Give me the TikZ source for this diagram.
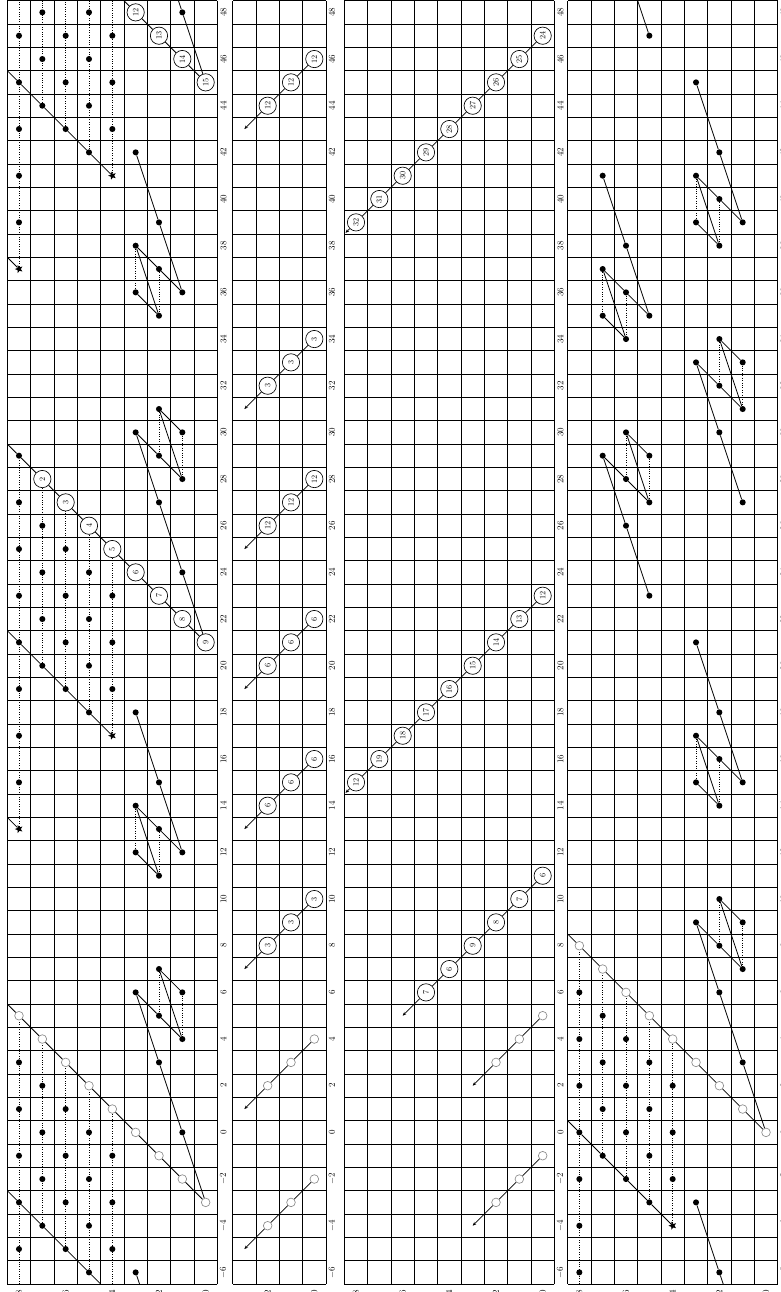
\documentclass[tikz,border=0pt]{standalone}
\usetikzlibrary{shapes.geometric,arrows.meta}
\newcommand{\pgridlab}[2]{%
  \foreach \i in {-6.5,-5.5,...,48.5} \draw[gl] (\i,-0.5)--(\i,#1.5);
  \foreach \j in {-0.5,0.5,...,#1.5} \draw[gl] (-6.5,\j)--(48.5,\j);
  \foreach \x in {-6,-4,...,48} \node[xl] at (\x,-0.76) {$\x$};
  \foreach \y in {#2} \node[xl] at (-6.85,\y) {$\y$};
}
\newcommand{\clA}[3]{%
 \node[dot] (#1T) at (#2,{#3+1}) {};
 \node[dot] (#1S) at ({#2+1},{#3+2}) {};
 \node[dot] (#1R) at ({#2+1},#3) {};
 \node[dot] (#1Q) at ({#2+2},{#3+1}) {};
 \node[dot] (#1P) at ({#2+3},{#3+2}) {};
 \draw[cn] (#1P)--(#1Q)--(#1R);
 \draw[cn] (#1P)--(#1T);
 \draw[cn] (#1S)--(#1T);
 \draw[dl] (#1P)--(#1S);
 \draw[dl] (#1Q)--(#1T);
}
\newcommand{\clB}[3]{%
 \node[dot] (#1Y) at (#2,#3) {};
 \node[dot] (#1X) at ({#2+1},{#3+1}) {};
 \node[dot] (#1W) at ({#2+2},{#3+2}) {};
 \node[dot] (#1V) at ({#2+2},#3) {};
 \node[dot] (#1U) at ({#2+3},{#3+1}) {};
 \draw[cn] (#1W)--(#1X)--(#1Y);
 \draw[cn] (#1U)--(#1V);
 \draw[cn] (#1U)--(#1Y);
 \draw[dl] (#1U)--(#1X);
 \draw[dl] (#1V)--(#1Y);
}
\newcommand{\ogroup}[2]{%
 \node[oc] (#1a) at (#2,0) {};
 \node[oc] (#1b) at ({#2-1},1) {};
 \node[oc] (#1c) at ({#2-2},2) {};
 \coordinate (#1t) at ({#2-3},3);
 \draw[cn] (#1a)--(#1b)--(#1c);
 \draw[tip] (#1c)--(#1t);
}
\newcommand{\ngroup}[3]{%
 \node[nc] (#1a) at (#2,0) {#3};
 \node[nc] (#1b) at ({#2-1},1) {#3};
 \node[nc] (#1c) at ({#2-2},2) {#3};
 \coordinate (#1t) at ({#2-3},3);
 \draw[cn] (#1a)--(#1b)--(#1c);
 \draw[tip] (#1c)--(#1t);
}
\begin{document}
\begin{tikzpicture}[
  gl/.style={line width=1.15pt,black},
  cn/.style={line width=0.95pt,black},
  dl/.style={line width=0.95pt,black,dotted},
  dot/.style={circle,fill=black,inner sep=0pt,minimum size=0.26cm},
  oc/.style={circle,draw=black!45,fill=white,line width=0.8pt,inner sep=0pt,minimum size=0.37cm},
  nc/.style={circle,draw=black,fill=white,line width=0.8pt,inner sep=0pt,minimum size=0.74cm,font=\fontsize{10}{12}\selectfont},
  st/.style={star,star points=5,star point ratio=2.3,fill=black,inner sep=0pt,minimum size=0.36cm},
  xl/.style={font=\fontsize{11}{13}\selectfont,inner sep=0pt},
  tip/.style={line width=0.95pt,black,-{Stealth[length=1.6mm,width=1.3mm]}},
]
\useasboundingbox (0,0) rectangle (33.471,-55.371);
\fill[white] (0,0) rectangle (33.471,-55.371);

% ================= PANEL 1 =================
\begin{scope}[shift={(8.814,-48.53)},rotate=90,transform shape]
\pgridlab{8}{0,2,4,6,8}
% bottom region
\foreach \x in {-5,-3,-1,1,3} \node[dot] (a8x\x) at (\x,8) {};
\foreach \x in {-4,-2,0,2} \node[dot] (a7x\x) at (\x,7) {};
\foreach \x in {-5,-3,-1,1} \node[dot] (a6x\x) at (\x,6) {};
\foreach \x in {-6,-4,-2,0} \node[dot] (a5x\x) at (\x,5) {};
\foreach \x in {-5,-3,-1} \node[dot] (a4x\x) at (\x,4) {};
\node[dot] (a3x-6) at (-6,3) {};
\foreach \x/\y in {-3/0,-2/1,-1/2,0/3,1/4,2/5,3/6,4/7,5/8} \node[oc] (a\y x\x) at (\x,\y) {};
\coordinate (aE8) at (-6.5,8);
\coordinate (aE4) at (-6.5,4);
\coordinate (aD1) at (-6.5,4.5);
\coordinate (aD2) at (-2.5,8.5);
\coordinate (aD3) at (5.5,8.5);
\coordinate (aD4) at (-6.5,2.8333);
\draw[dl] (aE8)--(a8x5);
\draw[dl] (a7x-4)--(a7x4);
\draw[dl] (a6x-5)--(a6x3);
\draw[dl] (a5x-6)--(a5x2);
\draw[dl] (aE4)--(a4x1);
\draw[cn] (aD1)--(a5x-6)--(a6x-5)--(a7x-4)--(a8x-3)--(aD2);
\draw[cn] (a0x-3)--(a1x-2)--(a2x-1)--(a3x0)--(a4x1)--(a5x2)--(a6x3)--(a7x4)--(a8x5)--(aD3);
\draw[cn] (a3x-6)--(aD4);
% long line and cluster B1
\node[dot] (a1x0) at (0,1) {};
\node[dot] (a2x3) at (3,2) {};
\clB{aB1}{4}{1}
\draw[cn] (a0x-3)--(a1x0)--(a2x3)--(aB1W);
% cluster A1
\clA{aA1}{11}{1}
\node[dot] (a2x15) at (15,2) {};
\node[dot] (a3x18) at (18,3) {};
\draw[cn] (aA1R)--(a2x15)--(a3x18);
% wave 1
\node[st] (a8x13) at (13,8) {};
\coordinate (aS1) at (13.5,8.5);
\draw[cn] (a8x13)--(aS1);
\foreach \x in {15,17,...,29} \node[dot] (a8x\x) at (\x,8) {};
\node[st] (a4x17) at (17,4) {};
\foreach \x in {19,21,23} \node[dot] (a4x\x) at (\x,4) {};
\foreach \x in {18,20,22,24} \node[dot] (a5x\x) at (\x,5) {};
\foreach \x in {19,21,23,25} \node[dot] (a6x\x) at (\x,6) {};
\foreach \x in {20,22,24,26} \node[dot] (a7x\x) at (\x,7) {};
\node[nc] (a7x28) at (28,7) {2};
\node[nc] (a6x27) at (27,6) {3};
\node[nc] (a5x26) at (26,5) {4};
\node[nc] (a4x25) at (25,4) {5};
\node[nc] (a3x24) at (24,3) {6};
\node[nc] (a2x23) at (23,2) {7};
\node[nc] (a1x22) at (22,1) {8};
\node[nc] (a0x21) at (21,0) {9};
\draw[dl] (a8x13)--(a8x29);
\draw[dl] (a4x17)--(a4x25);
\draw[dl] (a5x18)--(a5x26);
\draw[dl] (a6x19)--(a6x27);
\draw[dl] (a7x20)--(a7x28);
\coordinate (aS2) at (21.5,8.5);
\coordinate (aS3) at (29.5,8.5);
\draw[cn] (a4x17)--(a5x18)--(a6x19)--(a7x20)--(a8x21)--(aS2);
\draw[cn] (a0x21)--(a1x22)--(a2x23)--(a3x24)--(a4x25)--(a5x26)--(a6x27)--(a7x28)--(a8x29)--(aS3);
\node[dot] (a1x24) at (24,1) {};
\node[dot] (a2x27) at (27,2) {};
\clB{aB2}{28}{1}
\draw[cn] (a0x21)--(a1x24)--(a2x27)--(aB2W);
\clA{aA2}{35}{1}
\node[dot] (a2x39) at (39,2) {};
\node[dot] (a3x42) at (42,3) {};
\draw[cn] (aA2R)--(a2x39)--(a3x42);
% wave 2
\node[st] (a8x37) at (37,8) {};
\coordinate (aS4) at (37.5,8.5);
\draw[cn] (a8x37)--(aS4);
\foreach \x in {39,41,...,47} \node[dot] (a8x\x) at (\x,8) {};
\node[st] (a4x41) at (41,4) {};
\foreach \x in {43,45,47} \node[dot] (a4x\x) at (\x,4) {};
\foreach \x in {42,44,46,48} \node[dot] (a5x\x) at (\x,5) {};
\foreach \x in {43,45,47} \node[dot] (a6x\x) at (\x,6) {};
\foreach \x in {44,46,48} \node[dot] (a7x\x) at (\x,7) {};
\foreach \y in {4,5,6,7,8} \coordinate (aT\y) at (48.5,\y);
\draw[dl] (a8x37)--(aT8);
\draw[dl] (a4x41)--(aT4);
\draw[dl] (a5x42)--(aT5);
\draw[dl] (a6x43)--(aT6);
\draw[dl] (a7x44)--(aT7);
\coordinate (aS5) at (45.5,8.5);
\draw[cn] (a4x41)--(a5x42)--(a6x43)--(a7x44)--(a8x45)--(aS5);
\node[nc] (a0x45) at (45,0) {15};
\node[nc] (a1x46) at (46,1) {14};
\node[nc] (a2x47) at (47,2) {13};
\node[nc] (a3x48) at (48,3) {12};
\coordinate (aS6) at (48.5,3.5);
\draw[cn] (a0x45)--(a1x46)--(a2x47)--(a3x48)--(aS6);
\node[dot] (a1x48) at (48,1) {};
\coordinate (aS7) at (48.5,1.1667);
\draw[cn] (a0x45)--(a1x48)--(aS7);
\end{scope}

% ================= PANEL 2 =================
\begin{scope}[shift={(13.471,-48.53)},rotate=90,transform shape]
\pgridlab{3}{0,2}
\ogroup{bo1}{-2}
\ogroup{bo2}{4}
\ngroup{bn1}{10}{3}
\ngroup{bn2}{16}{6}
\ngroup{bn3}{22}{6}
\ngroup{bn4}{28}{12}
\ngroup{bn5}{34}{3}
\ngroup{bn6}{46}{12}
\end{scope}

% ================= PANEL 3 =================
\begin{scope}[shift={(23.257,-48.53)},rotate=90,transform shape]
\pgridlab{8}{0,2,4,6,8}
\ogroup{co1}{-1}
\ogroup{co2}{5}
\foreach \k/\l in {0/6,1/7,2/8,3/9,4/6,5/7} \node[nc] (cg1n\k) at ({11-\k},\k) {\l};
\coordinate (cg1t) at (5,6);
\draw[cn] (cg1n0)--(cg1n1)--(cg1n2)--(cg1n3)--(cg1n4)--(cg1n5);
\draw[tip] (cg1n5)--(cg1t);
\foreach \k/\l in {0/12,1/13,2/14,3/15,4/16,5/17,6/18,7/19,8/12} \node[nc] (cg2n\k) at ({23-\k},\k) {\l};
\coordinate (cg2t) at (14.55,8.45);
\draw[cn] (cg2n0)--(cg2n1)--(cg2n2)--(cg2n3)--(cg2n4)--(cg2n5)--(cg2n6)--(cg2n7)--(cg2n8);
\draw[tip] (cg2n8)--(cg2t);
\foreach \k/\l in {0/24,1/25,2/26,3/27,4/28,5/29,6/30,7/31,8/32} \node[nc] (cg3n\k) at ({47-\k},\k) {\l};
\coordinate (cg3t) at (38.55,8.45);
\draw[cn] (cg3n0)--(cg3n1)--(cg3n2)--(cg3n3)--(cg3n4)--(cg3n5)--(cg3n6)--(cg3n7)--(cg3n8);
\draw[tip] (cg3n8)--(cg3t);
\end{scope}

% ================= PANEL 4 =================
\begin{scope}[shift={(32.829,-48.53)},rotate=90,transform shape]
\pgridlab{8}{0,2,4,6,8}
\foreach \x in {-6,-4,-2,0,2,4,6} \node[dot] (d8x\x) at (\x,8) {};
\foreach \x in {-1,1,3,5} \node[dot] (d7x\x) at (\x,7) {};
\foreach \x in {-2,0,2,4} \node[dot] (d6x\x) at (\x,6) {};
\foreach \x in {-3,-1,1,3} \node[dot] (d5x\x) at (\x,5) {};
\foreach \x in {-2,0,2} \node[dot] (d4x\x) at (\x,4) {};
\node[st] (d4x-4) at (-4,4) {};
\foreach \x in {0,1,...,8} \node[oc] (d\x x\x) at (\x,\x) {};
\coordinate (dE8) at (-6.5,8);
\draw[dl] (dE8)--(d8x8);
\draw[dl] (d7x-1)--(d7x7);
\draw[dl] (d6x-2)--(d6x6);
\draw[dl] (d5x-3)--(d5x5);
\draw[dl] (d4x-4)--(d4x4);
\coordinate (dD1) at (0.5,8.5);
\coordinate (dD2) at (8.5,8.5);
\draw[cn] (d4x-4)--(d5x-3)--(d6x-2)--(d7x-1)--(d8x0)--(dD1);
\draw[cn] (d0x0)--(d1x1)--(d2x2)--(d3x3)--(d4x4)--(d5x5)--(d6x6)--(d7x7)--(d8x8)--(dD2);
\node[dot] (d3x-3) at (-3,3) {};
\node[dot] (d2x-6) at (-6,2) {};
\coordinate (dD3) at (-6.5,1.8333);
\draw[cn] (d3x-3)--(d2x-6)--(dD3);
\node[dot] (d1x3) at (3,1) {};
\node[dot] (d2x6) at (6,2) {};
\clB{dB1}{7}{1}
\draw[cn] (d0x0)--(d1x3)--(d2x6)--(dB1W);
\clA{dA1}{14}{1}
\node[dot] (d2x18) at (18,2) {};
\node[dot] (d3x21) at (21,3) {};
\draw[cn] (dA1R)--(d2x18)--(d3x21);
\node[dot] (d5x23) at (23,5) {};
\node[dot] (d6x26) at (26,6) {};
\clB{dB2}{27}{5}
\draw[cn] (d5x23)--(d6x26)--(dB2W);
\clB{dB3}{31}{1}
\node[dot] (d2x30) at (30,2) {};
\node[dot] (d1x27) at (27,1) {};
\draw[cn] (dB3W)--(d2x30)--(d1x27);
\clA{dA2}{34}{5}
\node[dot] (d6x38) at (38,6) {};
\node[dot] (d7x41) at (41,7) {};
\draw[cn] (dA2R)--(d6x38)--(d7x41);
\clA{dA3}{38}{1}
\node[dot] (d2x42) at (42,2) {};
\node[dot] (d3x45) at (45,3) {};
\draw[cn] (dA3R)--(d2x42)--(d3x45);
\node[dot] (d5x47) at (47,5) {};
\coordinate (dD4) at (48.5,5.5);
\draw[cn] (d5x47)--(dD4);
\end{scope}
\end{tikzpicture}
\end{document}
